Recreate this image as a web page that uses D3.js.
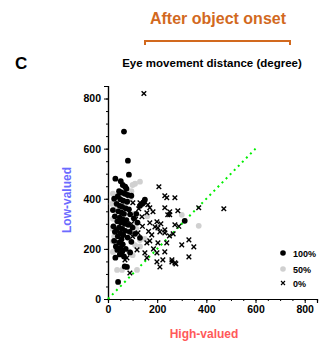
<!DOCTYPE html>
<html>
<head>
<meta charset="utf-8">
<script src="https://cdn.jsdelivr.net/npm/d3@7"></script>
<style>
  body { margin: 0; background: #fff; }
  text { font-family: "Liberation Sans", Arial, sans-serif; }
</style>
</head>
<body>
<figure id="scatter" style="margin:0"></figure>
<script>
// Data (x = high-valued, y = low-valued, degrees)
const full = [[30,480],[65,668],[81,552],[85,496],[52,470],[60,455],[70,448],[75,440],[45,430],[55,425],[68,420],[80,415],[40,410],[95,412],[25,400],[50,398],[62,392],[78,388],[150,396],[140,380],[130,372],[145,386],[35,380],[48,372],[58,368],[72,362],[85,358],[20,355],[42,350],[55,345],[65,340],[90,338],[28,330],[48,325],[60,318],[75,315],[38,310],[52,305],[68,300],[82,296],[22,290],[45,285],[58,280],[100,285],[35,275],[70,272],[88,268],[28,268],[50,262],[62,255],[110,260],[40,250],[80,245],[130,244],[55,238],[25,232],[45,225],[95,228],[60,218],[32,210],[50,204],[72,200],[38,196],[58,190],[90,186],[48,178],[65,170],[30,165],[77,128],[68,130],[41,68],[312,312],[120,305],[105,322],[115,340]];
const half = [[130,468],[110,460],[100,455],[20,420],[15,380],[30,360],[90,400],[105,340],[20,320],[110,300],[18,280],[115,280],[25,250],[130,210],[20,188],[85,190],[100,175],[37,116],[57,116],[118,116],[300,336],[369,292],[90,270],[20,230],[130,235],[110,215],[150,240],[70,380],[95,430],[160,330]];
const none = [[146,820],[207,448],[231,412],[239,404],[272,404],[231,364],[251,348],[284,352],[243,336],[101,384],[130,384],[162,376],[170,364],[158,344],[183,348],[138,328],[199,308],[251,336],[272,296],[170,304],[191,288],[203,284],[231,276],[211,268],[231,264],[122,264],[158,224],[203,224],[239,224],[118,196],[150,184],[158,164],[199,184],[231,188],[199,148],[211,128],[223,156],[260,148],[272,144],[77,164],[69,156],[89,104],[178,256],[369,364],[471,360],[300,216],[329,236],[349,208],[329,168],[276,140],[260,156],[288,290],[215,300],[250,252],[265,260],[140,290],[112,318],[185,200],[100,250],[165,270],[125,360],[95,300],[170,232]];
const diagonal = [[0, 0], [600, 600]];
const majorTicks = [0, 200, 400, 600, 800];
const minorTicks = d3.range(0, 851, 50);
const legendItems = ['100%', '50%', '0%'];

const width = 320, height = 344;
const svg = d3.select('figure#scatter')
  .append('svg')
  .attr('width', width)
  .attr('height', height);

const x = d3.scaleLinear().domain([0, 850]).range([108, 317]);
const y = d3.scaleLinear().domain([0, 850]).range([299, 86]);

// Header texts
svg.append('text').attr('x', 218).attr('y', 24)
  .attr('text-anchor', 'middle').attr('font-size', 16).attr('font-weight', 'bold')
  .attr('fill', '#d2691e').text('After object onset');
svg.append('path')
  .attr('d', 'M145,45V41H290V45')
  .attr('fill', 'none').attr('stroke', '#d2691e').attr('stroke-width', 2);
svg.append('text').attr('x', 15).attr('y', 69)
  .attr('font-size', 17).attr('font-weight', 'bold').text('C');
svg.append('text').attr('x', 212).attr('y', 67)
  .attr('text-anchor', 'middle').attr('font-size', 11.5).attr('font-weight', 'bold')
  .text('Eye movement distance (degree)');

// Axes
const xAxis = svg.append('g').attr('transform', 'translate(0,299)');
xAxis.call(d3.axisBottom(x).tickValues(minorTicks).tickSize(2).tickFormat(''));
xAxis.call(g => g.append('g').call(d3.axisBottom(x).tickValues(majorTicks).tickSize(4).tickFormat(d3.format('d'))));
const yAxis = svg.append('g').attr('transform', 'translate(108,0)');
yAxis.call(d3.axisLeft(y).tickValues(minorTicks).tickSize(2).tickFormat(''));
yAxis.call(g => g.append('g').call(d3.axisLeft(y).tickValues(majorTicks).tickSize(4).tickFormat(d3.format('d'))));
svg.selectAll('.domain').attr('stroke', '#000').attr('stroke-width', 1.2);
svg.selectAll('.tick line').attr('stroke', '#000');
svg.selectAll('.tick text')
  .attr('font-size', 10.5).attr('font-weight', 'bold')
  .attr('font-family', '"Liberation Sans", Arial, sans-serif').attr('fill', '#000');

// Axis labels
svg.append('text').attr('transform', 'translate(71,200) rotate(-90)')
  .attr('text-anchor', 'middle').attr('font-size', 12).attr('font-weight', 'bold')
  .attr('fill', '#6b6bff').text('Low-valued');
svg.append('text').attr('x', 204).attr('y', 338)
  .attr('text-anchor', 'middle').attr('font-size', 12).attr('font-weight', 'bold')
  .attr('fill', '#ff5a5a').text('High-valued');

// Unity line
svg.append('line')
  .attr('x1', x(diagonal[0][0])).attr('y1', y(diagonal[0][1]))
  .attr('x2', x(diagonal[1][0])).attr('y2', y(diagonal[1][1]))
  .attr('stroke', '#00ee00').attr('stroke-width', 2)
  .attr('stroke-dasharray', '2,3.8');

// Points
const crossPath = 'M-2.3,-2.3L2.3,2.3M-2.3,2.3L2.3,-2.3';
svg.append('g').selectAll('circle').data(half).enter().append('circle')
  .attr('cx', d => x(d[0])).attr('cy', d => y(d[1])).attr('r', 2.9).attr('fill', '#d0d0d0');
svg.append('g').selectAll('circle').data(full).enter().append('circle')
  .attr('cx', d => x(d[0])).attr('cy', d => y(d[1])).attr('r', 2.9).attr('fill', '#000');
svg.append('g').selectAll('path').data(none).enter().append('path')
  .attr('transform', d => 'translate(' + x(d[0]) + ',' + y(d[1]) + ')')
  .attr('d', crossPath).attr('stroke', '#000').attr('stroke-width', 1.4);

// Legend
const legend = svg.append('g').selectAll('g').data(legendItems).enter().append('g')
  .attr('transform', (d, i) => 'translate(283,' + [253, 269, 283][i] + ')');
legend.each(function (d, i) {
  const g = d3.select(this);
  if (i === 0) g.append('circle').attr('r', 2.8).attr('fill', '#000');
  if (i === 1) g.append('circle').attr('r', 2.8).attr('fill', '#d0d0d0');
  if (i === 2) g.append('path').attr('d', 'M-2,-2L2,2M-2,2L2,-2').attr('stroke', '#000').attr('stroke-width', 1.1);
  g.append('text').attr('x', 10).attr('y', 3.5).attr('font-size', 9).attr('font-weight', 'bold').text(d);
});
</script>
</body>
</html>
